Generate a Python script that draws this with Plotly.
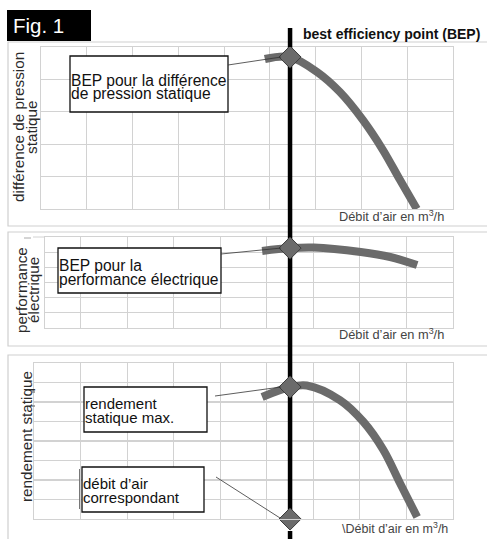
import plotly.graph_objects as go

# ---------------- data ----------------
bep_flow = 5.5

flow_p1 = [4.95, 5.50, 6.09, 6.59, 7.09, 7.53, 7.90, 8.27]
pressure = [4.63, 4.69, 4.23, 3.61, 2.75, 1.82, 0.90, 0.00]
bep_pressure = 4.69

flow_p2 = [4.90, 5.50, 6.01, 7.02, 7.65, 8.23]
power = [5.08, 5.27, 5.31, 5.01, 4.68, 4.15]
bep_power = 5.27

flow_p3 = [4.90, 5.50, 5.86, 6.57, 7.07, 7.50, 7.86, 8.23]
efficiency = [6.26, 6.77, 6.85, 6.10, 5.00, 3.56, 1.85, 0.10]
bep_efficiency = 6.77
bep_flow_axis_value = 0.0

title_fig = "Fig. 1"
title_bep = "best efficiency point (BEP)"
flow_label = "Débit d’air en m<sup>3</sup>/h"
flow_label3 = "\\Débit d’air en m<sup>3</sup>/h"
ytitle1 = ["différence de pression", "statique"]
ytitle2 = ["performance", "électrique"]
ytitle3 = ["rendement statique"]
box1 = ["BEP pour la différence", "de pression statique"]
box2 = ["BEP pour la", "performance électrique"]
box3a = ["rendement", "statique max."]
box3b = ["débit d’air", "correspondant"]

# ---------------- geometry helpers ----------------
W, H = 487, 539
def X(px): return px / W
def Y(py): return 1 - py / H

FONT = "Liberation Sans, Arial, Helvetica, sans-serif"
CURVE = "#6b6b6b"
GRID = "#d2d2d2"

axes = {
    1: dict(xd=(41, 453), yd=(209, 47), xr=(0.06, 9.06), yr=(0, 5), t0=0.06),
    2: dict(xd=(45, 453), yd=(328, 237), xr=(0.236, 9.0), yr=(0, 6), t0=0.0),
    3: dict(xd=(34, 453), yd=(519, 363), xr=(0.0, 9.0), yr=(0, 8), t0=0.0),
}

fig = go.Figure()

def sf(i): return "" if i == 1 else str(i)

def add_bep_line(i):
    a = axes[i]
    fig.add_trace(go.Scatter(x=[bep_flow, bep_flow], y=[a["yr"][0], a["yr"][1]], mode="lines",
                             line=dict(color="black", width=4.5), cliponaxis=False,
                             xaxis="x" + sf(i), yaxis="y" + sf(i), showlegend=False, hoverinfo="skip"))

def add_curve(i, xs, ys):
    fig.add_trace(go.Scatter(x=xs, y=ys, mode="lines", line=dict(color=CURVE, width=8, shape="spline", smoothing=1.0),
                             xaxis="x" + sf(i), yaxis="y" + sf(i), showlegend=False, hoverinfo="skip"))

def add_diamond(i, xs, ys):
    fig.add_trace(go.Scatter(x=xs, y=ys, mode="markers", cliponaxis=False,
                             marker=dict(symbol="diamond", size=17, color=CURVE, line=dict(color="#3c3c3c", width=1)),
                             xaxis="x" + sf(i), yaxis="y" + sf(i), showlegend=False, hoverinfo="skip"))

add_bep_line(1)
add_curve(1, flow_p1, pressure)
add_diamond(1, [bep_flow], [bep_pressure])
add_bep_line(2)
add_curve(2, flow_p2, power)
add_diamond(2, [bep_flow], [bep_power])
add_bep_line(3)
add_curve(3, flow_p3, efficiency)
add_diamond(3, [bep_flow, bep_flow], [bep_efficiency, bep_flow_axis_value])

layout = dict(width=W, height=H, margin=dict(l=0, r=0, t=0, b=0),
              paper_bgcolor="white", plot_bgcolor="white", showlegend=False,
              font=dict(family=FONT, color="#333"))

for i, a in axes.items():
    s = sf(i)
    layout["xaxis" + s] = dict(domain=[X(a["xd"][0]), X(a["xd"][1])], range=list(a["xr"]),
                               tick0=a["t0"], dtick=1, showgrid=True, gridcolor=GRID, gridwidth=1,
                               showticklabels=False, ticks="", zeroline=False,
                               showline=True, mirror=True, linecolor=GRID, linewidth=1,
                               anchor="y" + s, fixedrange=True)
    layout["yaxis" + s] = dict(domain=[Y(a["yd"][0]), Y(a["yd"][1])], range=list(a["yr"]),
                               dtick=1, showgrid=True, gridcolor=GRID, gridwidth=1.3,
                               showticklabels=False, ticks="", zeroline=False,
                               showline=True, mirror=True, linecolor=GRID, linewidth=1,
                               anchor="x" + s, fixedrange=True)

fig.update_layout(**layout)

def to_paper(i, xv, yv):
    a = axes[i]
    fx = (xv - a["xr"][0]) / (a["xr"][1] - a["xr"][0])
    fy = (yv - a["yr"][0]) / (a["yr"][1] - a["yr"][0])
    px = a["xd"][0] + fx * (a["xd"][1] - a["xd"][0])
    py = a["yd"][0] + fy * (a["yd"][1] - a["yd"][0])
    return px, py

shapes = []
for top, bot in [(42, 226), (232, 346), (355, 560)]:
    shapes.append(dict(type="rect", xref="paper", yref="paper", x0=X(8), x1=X(500), y0=Y(bot), y1=Y(top),
                       line=dict(color="#cfcfcf", width=1.2), fillcolor="rgba(0,0,0,0)", layer="below"))

# small stray marks seen in the original scan
def seg(x0, y0, x1, y1, color, w=1):
    shapes.append(dict(type="line", xref="paper", yref="paper", x0=X(x0), x1=X(x1), y0=Y(y0), y1=Y(y1),
                       line=dict(color=color, width=w), layer="above"))
seg(33, 237, 45, 237, GRID)
seg(24, 238, 31, 238, "#aaa")
seg(32, 392, 35, 392, "#777", 1.3)
seg(32, 406, 35, 406, "#777", 1.3)

bx, _ = to_paper(3, bep_flow, 0)
for top, bot in [(28, 47), (209, 237), (328, 363), (531, 545)]:
    shapes.append(dict(type="line", xref="paper", yref="paper", x0=X(bx), x1=X(bx), y0=Y(bot), y1=Y(top),
                       line=dict(color="black", width=4.5), layer="above"))

shapes.append(dict(type="rect", xref="paper", yref="paper", x0=X(7), x1=X(91), y0=Y(41), y1=Y(10),
                   line=dict(width=0), fillcolor="black", layer="above"))

def callout(x0, y0, x1, y1):
    shapes.append(dict(type="rect", xref="paper", yref="paper", x0=X(x0), x1=X(x1), y0=Y(y1), y1=Y(y0),
                       line=dict(color="#111", width=1.3), fillcolor="white", layer="above"))
callout(70, 56, 228, 112)
callout(58, 248, 221, 293)
callout(84, 387, 207, 432)
callout(82, 467, 204, 512)
seg(79.5, 469, 79.5, 509, "#777")

def connector(sx, sy, i, xv, yv, dx=-9, dy=0):
    ex, ey = to_paper(i, xv, yv)
    shapes.append(dict(type="line", xref="paper", yref="paper", x0=X(sx), y0=Y(sy), x1=X(ex + dx), y1=Y(ey + dy),
                       line=dict(color="#333", width=0.8), layer="above"))
connector(228, 65, 1, bep_flow, bep_pressure)
connector(221, 254, 2, bep_flow, bep_power)
connector(215, 396, 3, bep_flow, bep_efficiency)
connector(216, 477, 3, bep_flow, bep_flow_axis_value, dx=-10, dy=-1)

fig.update_layout(shapes=shapes)

ann = []
def text(s, px, py, size, color="#222", xanchor="left", bold=False):
    if bold:
        s = "<b>" + s + "</b>"
    ann.append(dict(text=s, x=X(px), y=Y(py), xref="paper", yref="paper", xanchor=xanchor, yanchor="middle",
                    showarrow=False, font=dict(family=FONT, size=size, color=color), borderpad=0))

text(title_fig, 12, 26, 20.5, color="white")
text(title_bep, 302, 34, 14, color="#111", bold=True)
text(flow_label, 338, 216, 12.8, color="#444")
text(flow_label, 338, 334, 12.8, color="#444")
text(flow_label3, 341, 528, 12.5, color="#444")

text(box1[0], 70, 80, 15.6, color="#111")
text(box1[1], 70, 94, 15.6, color="#111")
text(box2[0], 58, 266, 15.6, color="#111")
text(box2[1], 58, 279, 15.6, color="#111")
text(box3a[0], 84, 403, 15, color="#111")
text(box3a[1], 84, 417, 15, color="#111")
text(box3b[0], 82, 483, 15, color="#111")
text(box3b[1], 82, 497, 15, color="#111")

def ytitle(s, px, py, size=15.3):
    ann.append(dict(text=s, x=X(px), y=Y(py), xref="paper", yref="paper", xanchor="center", yanchor="middle",
                    showarrow=False, textangle=-90, font=dict(family=FONT, size=size, color="#2a2a2a")))
ytitle(ytitle1[0], 18, 127)
ytitle(ytitle1[1], 31, 127)
ytitle(ytitle2[0], 21, 290)
ytitle(ytitle2[1], 33, 290)
ytitle(ytitle3[0], 26, 437)

fig.update_layout(annotations=ann)

fig.write_html("out.html", config={"displayModeBar": False, "staticPlot": True},
               post_script="document.body.style.margin='0';")
